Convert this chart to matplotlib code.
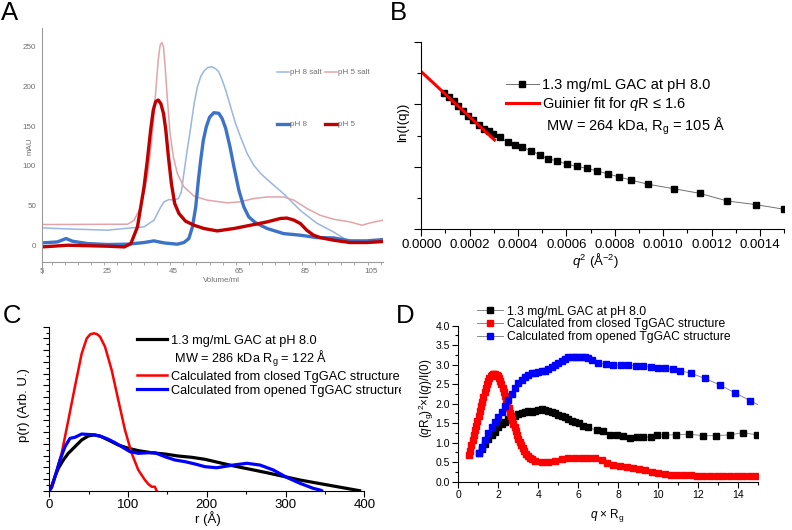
import matplotlib
matplotlib.use("Agg")
import matplotlib.pyplot as plt
from matplotlib.lines import Line2D
from matplotlib.ticker import MultipleLocator, FormatStrFormatter
from matplotlib.transforms import Bbox, TransformedBbox, IdentityTransform

plt.rcParams['font.family'] = ['Liberation Sans', 'DejaVu Sans']
plt.rcParams['mathtext.fontset'] = 'custom'
plt.rcParams['mathtext.rm'] = 'Liberation Sans'
plt.rcParams['mathtext.it'] = 'Liberation Sans:italic'
plt.rcParams['mathtext.bf'] = 'Liberation Sans:bold'
plt.rcParams['mathtext.default'] = 'regular'

# ---------------- Panel A data (SEC, mAU vs Volume/ml) ----------------
a_xticks = [5, 25, 45, 65, 85, 105]
a_yticks = [0, 50, 100, 150, 200, 250]

ph8salt_vol = [5, 12.9, 25, 31.1, 36.1, 39.1, 41.2, 42.2, 43.7, 45.2, 46.5, 47.4, 48.2, 49.2, 50.3,
               51.3, 52.3, 53.3, 54.3, 55.3, 56.6, 57.8, 58.8, 59.8, 60.9, 62.4, 63.9, 65.4, 67.4,
               69.4, 71.5, 73.5, 78.5, 83.6, 88.6, 93.7, 97.7, 99.7, 103.8, 108.6]
ph8salt_mau = [22.2, 20.9, 19.3, 21.8, 23.5, 31.8, 48.6, 54.9, 57.8, 57, 59, 67, 90.5, 119.8, 149,
               178, 199, 212, 219, 223, 224.5, 222, 218, 208, 195, 174, 153, 136.5, 115.6,
               101, 90.5, 82.9, 65, 44, 28, 17, 6.7, 5.9, 5.9, 7.5]

ph5salt_vol = [5, 31.1, 33.1, 35.1, 37.1, 38.1, 38.9, 39.6, 40.4, 41.0, 41.5, 42.0, 42.5, 43.2, 44.0,
               45.0, 46.2, 48.2, 51.3, 55.3, 61.4, 65.4, 69.4, 73.5, 78.5, 81.6, 85.6, 89.6, 93.7,
               98.7, 102.3, 104.8, 108.6]
ph5salt_mau = [26.4, 26.8, 31.8, 48.6, 86, 119.8, 153, 191, 233, 251.7, 254.6, 249.6, 224.5, 182.6, 140.7,
               111.4, 90.5, 73.7, 62, 57, 53.6, 55, 59, 61, 61, 57, 46.5, 38, 33,
               29.7, 25.5, 28.5, 31.8]

ph8_vol = [5, 9.8, 12.4, 14.4, 18.9, 25, 31.1, 36.1, 39.1, 42.2, 46.2, 48.2, 49.7, 50.8, 51.8, 52.6,
           53.3, 54.1, 55.0, 56.0, 57.3, 58.8, 59.8, 60.9, 62.2, 63.4, 64.9, 66.4, 67.9, 70.0,
           73.5, 78.5, 83.6, 88.6, 93.7, 98.7, 103.8, 108.6]
ph8_mau = [3.3, 4.6, 8.8, 5.4, 2.5, 1.3, 1.7, 3.8, 5.9, 3.3, 1.7, 3.8, 8.8, 23.5, 48.6, 82,
           107, 132, 149, 161, 166.7, 166, 159.5, 147, 124, 98.8, 69.5, 48.6, 36, 28.5,
           21.4, 15, 13, 10, 9.6, 5.9, 5.9, 7.5]

ph5_vol = [5, 12.9, 25, 30.1, 32.1, 34.1, 36.1, 37.1, 38.1, 38.9, 39.6, 40.4, 41.2, 42.0, 42.7, 43.5,
           44.4, 45.4, 46.7, 48.7, 51.3, 54.3, 58.3, 63.4, 68.4, 73.5, 77.5, 79.5, 81.6, 83.6,
           85.6, 87.6, 89.6, 93.7, 98.7, 103.8, 108.6]
ph5_mau = [-1.7, 0.4, -0.8, -1.7, 2.5, 23.5, 73.7, 107, 145, 170, 180.5, 182.6, 178, 165.8, 145, 111.4,
           77.9, 52.8, 40.2, 30.6, 25.5, 21.4, 18.4, 21.4, 25.5, 29.7, 34, 34.5, 32, 27.6,
           19, 13, 10, 6.7, 3.8, 3.8, 5]

# ---------------- Panel B data (Guinier plot) ----------------
b_q2 = [0.0000953, 0.0001146, 0.000134, 0.0001533, 0.000174, 0.0001948, 0.0002155, 0.0002376,
        0.0002583, 0.000279, 0.0002983, 0.000326, 0.0003564, 0.0003854, 0.0004171, 0.000453,
        0.000489, 0.000525, 0.000562, 0.000602, 0.000642, 0.000685, 0.000728, 0.000773,
        0.000819, 0.000866, 0.000939, 0.001043, 0.001151, 0.001265, 0.001384, 0.0015]
b_lnI = [2.179, 2.115, 2.051, 1.971, 1.891, 1.817, 1.747, 1.668,
         1.598, 1.572, 1.524, 1.470, 1.391, 1.353, 1.311, 1.257,
         1.193, 1.124, 1.097, 1.039, 1.007, 0.975, 0.932, 0.884,
         0.836, 0.788, 0.719, 0.650, 0.575, 0.453, 0.394, 0.320]
guinier_q2 = [0.0, 0.0003025]
guinier_lnI = [2.52, 1.428]

# ---------------- Panel C data (p(r)) ----------------
exp_r = [0, 3.0, 7.2, 11.4, 17.8, 24.1, 32.6, 41.1, 49.5, 56.8, 64.4, 74.9, 87.6, 100.3, 113, 130,
         147, 163.8, 180.8, 197.7, 210.4, 233.7, 276, 318.4, 360.7, 394]
exp_p = [0, 0.034, 0.12, 0.19, 0.262, 0.319, 0.376, 0.433, 0.467, 0.476, 0.467, 0.433, 0.39, 0.362,
         0.342, 0.324, 0.313, 0.296, 0.285, 0.268, 0.248, 0.212, 0.154, 0.091, 0.04, 0.0]
closed_r = [0, 0.9, 7.2, 15.7, 24.1, 32.6, 41.1, 47.5, 52, 56.8, 61, 64.4, 70.7, 79.2, 87.6, 96.1,
            104.6, 113, 121.5, 126, 130, 134, 136.3]
closed_p = [0, 0.006, 0.12, 0.32, 0.60, 0.89, 1.17, 1.30, 1.335, 1.344, 1.335, 1.315, 1.23, 1.03,
            0.774, 0.518, 0.32, 0.177, 0.091, 0.055, 0.034, 0.034, 0.0]
open_r = [0, 3, 7.2, 13.6, 19.9, 26.3, 32.6, 41.1, 49.5, 58, 66.5, 74.9, 83.4, 91.9, 102.5, 113,
          125.7, 134.2, 146.9, 159.6, 172.3, 185, 197.7, 212.6, 233.7, 250.7, 267.6, 284.4, 301.4,
          318.4, 335.2, 343.7, 345.8]
open_p = [0, 0.03, 0.12, 0.262, 0.376, 0.447, 0.456, 0.484, 0.48, 0.476, 0.461, 0.439, 0.41, 0.376,
          0.333, 0.319, 0.324, 0.324, 0.29, 0.262, 0.248, 0.228, 0.205, 0.196, 0.219, 0.234, 0.219,
          0.177, 0.114, 0.063, 0.02, 0.006, 0.0]

# ---------------- Panel D data (dimensionless Kratky) ----------------
d_exp_x = [1.03, 1.17, 1.33, 1.5, 1.67, 1.83, 2.0, 2.17, 2.33, 2.5, 2.67, 2.83, 3.0, 3.17, 3.33, 3.5,
           3.67, 3.83, 4.0, 4.17, 4.33, 4.5, 4.67, 4.83, 5.0, 5.17, 5.33, 5.5, 5.67, 5.83, 6.03, 6.25,
           6.5, 6.92, 7.25, 7.58, 7.92, 8.25, 8.58, 8.92, 9.25, 9.62, 9.95, 10.33, 10.88, 11.55,
           12.22, 12.88, 13.58, 14.25, 14.92]
d_exp_y = [0.74, 0.85, 0.97, 1.09, 1.2, 1.28, 1.39, 1.48, 1.54, 1.6, 1.65, 1.68, 1.73, 1.75, 1.78, 1.82,
           1.79, 1.82, 1.84, 1.86, 1.85, 1.82, 1.79, 1.75, 1.72, 1.68, 1.65, 1.61, 1.56, 1.53, 1.5, 1.44,
           1.39, 1.32, 1.3, 1.2, 1.2, 1.17, 1.11, 1.15, 1.15, 1.14, 1.2, 1.2, 1.2, 1.22,
           1.18, 1.18, 1.2, 1.26, 1.2]
d_closed_x = [0.53, 0.59, 0.65, 0.71, 0.77, 0.83, 0.89, 0.95, 1.01, 1.07, 1.13, 1.19, 1.25, 1.31, 1.37,
              1.43, 1.49, 1.55, 1.61, 1.67, 1.73, 1.79, 1.85, 1.91, 1.97, 2.03, 2.09, 2.15, 2.21, 2.27,
              2.33, 2.39, 2.45, 2.51, 2.57, 2.63, 2.69, 2.75, 2.81, 2.87, 2.93, 2.99, 3.06, 3.14, 3.22,
              3.30, 3.39, 3.48, 3.58, 3.70, 3.83, 4.17, 4.5, 4.83, 5.17, 5.5, 5.83, 6.17, 6.5, 6.83,
              7.17, 7.42, 7.75, 8.08, 8.42, 8.75, 9.05, 9.35, 9.68, 10.0, 10.33, 10.63, 10.95, 11.28,
              11.62, 11.95, 12.25, 12.58, 12.92, 13.25, 13.58, 13.92, 14.25, 14.58, 14.88]
d_closed_y = [0.68, 0.80, 0.93, 1.06, 1.19, 1.32, 1.44, 1.56, 1.69, 1.81, 1.93, 2.05, 2.17, 2.30, 2.40,
              2.50, 2.59, 2.66, 2.71, 2.74, 2.76, 2.76, 2.76, 2.74, 2.70, 2.65, 2.58, 2.50, 2.41, 2.31,
              2.21, 2.10, 2.00, 1.88, 1.77, 1.68, 1.59, 1.49, 1.39, 1.29, 1.19, 1.10, 1.01, 0.93, 0.86,
              0.79, 0.72, 0.66, 0.61, 0.57, 0.54, 0.51, 0.51, 0.54, 0.57, 0.6, 0.62, 0.62, 0.62, 0.6,
              0.56, 0.49, 0.44, 0.41, 0.38, 0.35, 0.32, 0.29, 0.26, 0.22, 0.2, 0.18, 0.17, 0.16,
              0.16, 0.15, 0.15, 0.15, 0.15, 0.14, 0.14, 0.14, 0.14, 0.14, 0.14]
d_open_x = [1.03, 1.17, 1.33, 1.5, 1.67, 1.83, 2.0, 2.17, 2.33, 2.5, 2.67, 2.83, 3.0, 3.17, 3.33, 3.5,
            3.67, 3.83, 4.0, 4.17, 4.33, 4.5, 4.67, 4.83, 5.0, 5.17, 5.33, 5.5, 5.67, 5.83, 6.0, 6.17,
            6.33, 6.5, 6.67, 7.0, 7.38, 7.75, 8.12, 8.5, 8.88, 9.25, 9.62, 10.0, 10.33, 10.72, 11.08,
            11.62, 12.33, 13.08, 13.83, 14.58, 15.33]
d_open_y = [0.74, 0.9, 1.07, 1.24, 1.39, 1.54, 1.67, 1.79, 1.94, 2.09, 2.25, 2.39, 2.52, 2.62, 2.69, 2.74,
            2.78, 2.79, 2.82, 2.84, 2.85, 2.88, 2.93, 2.99, 3.05, 3.1, 3.15, 3.19, 3.21, 3.21, 3.21, 3.21,
            3.19, 3.16, 3.12, 3.05, 3.01, 2.99, 2.99, 2.99, 2.97, 2.97, 2.95, 2.92, 2.91, 2.88, 2.85,
            2.78, 2.65, 2.48, 2.28, 2.08, 1.88]

W, H = 792, 530
fig = plt.figure(figsize=(W / 100, H / 100), dpi=100)


def axes_px(l, t, r, b):
    return fig.add_axes([l / W, (H - b) / H, (r - l) / W, (b - t) / H])


def fxy(x, y):
    return (x / W, (H - y) / H)


def place_labels(ax, box, xlab_xy, ylab_xy):
    l, t, r, b = box
    ax.xaxis.set_label_coords((xlab_xy[0] - l) / (r - l), (b - xlab_xy[1]) / (b - t))
    ax.yaxis.set_label_coords((ylab_xy[0] - l) / (r - l), (b - ylab_xy[1]) / (b - t))
    ax.xaxis.label.set_verticalalignment('center')
    ax.yaxis.label.set_verticalalignment('center')


# ================= Panel A =================
boxA = (41.7, 28, 382.7, 262.3)
axA = axes_px(*boxA)
axA.set_xlim(5, 108.6)
axA.set_ylim(-21, 273)
axA.plot(ph8salt_vol, ph8salt_mau, color='#98b5e6', lw=1.1)
axA.plot(ph5salt_vol, ph5salt_mau, color='#e3a3aa', lw=1.1)
axA.plot(ph8_vol, ph8_mau, color='#3d72c9', lw=2.4, solid_capstyle='round')
axA.plot(ph5_vol, ph5_mau, color='#c00000', lw=2.4, solid_capstyle='round')
for s in ['top', 'right']:
    axA.spines[s].set_visible(False)
for s in ['left', 'bottom']:
    axA.spines[s].set_color('#9a9a9a')
    axA.spines[s].set_linewidth(0.8)
axA.spines['left'].set_bounds(-35, 273)
axA.set_xticks(a_xticks)
axA.set_yticks(a_yticks)
axA.xaxis.set_minor_locator(MultipleLocator(4))
axA.tick_params(axis='both', which='major', length=0, labelsize=5.8, labelcolor='#707070', pad=4)
axA.tick_params(axis='x', which='minor', length=2, color='#9a9a9a', direction='out')
axA.tick_params(axis='y', which='minor', length=0)
axA.text((221.7 - 41.7) / 341, (262.3 - 280) / 234.3, 'Volume/ml', transform=axA.transAxes,
         ha='center', va='center', fontsize=5.8, color='#707070')
axA.text((30 - 41.7) / 341, (262.3 - 146) / 234.3, 'mAU', transform=axA.transAxes,
         ha='center', va='center', fontsize=5.8, color='#707070', rotation=90)


def a_leg(x0, x1, y, color, lw, label):
    axA.add_line(Line2D([(x0 - 41.7) / 341, (x1 - 41.7) / 341], [(262.3 - y) / 234.3] * 2,
                        transform=axA.transAxes, color=color, lw=lw, clip_on=False))
    axA.text((x1 + 0.5 - 41.7) / 341, (262.3 - y) / 234.3, label, transform=axA.transAxes,
             ha='left', va='center', fontsize=5.8, color='#707070')


a_leg(276.7, 289.3, 72, '#98b5e6', 1.1, 'pH 8 salt')
a_leg(325, 337.3, 72, '#e3a3aa', 1.1, 'pH 5 salt')
a_leg(276.7, 289.3, 124, '#3d72c9', 2.4, 'pH 8')
a_leg(325, 337.3, 124, '#c00000', 2.4, 'pH 5')

# ================= Panel B =================
boxB = (421.3, 41.7, 784.2, 229.3)
axB = axes_px(*boxB)
axB.set_xlim(0, 0.0015)
axB.set_ylim(0, 3)
lB1, = axB.plot(b_q2, b_lnI, color='#707070', lw=0.7, marker='s', ms=3.9,
                mfc='black', mec='black')
lB2, = axB.plot(guinier_q2, guinier_lnI, color='#ff0000', lw=2.2)
for s in ['top', 'right']:
    axB.spines[s].set_visible(False)
axB.xaxis.set_major_locator(MultipleLocator(0.0002))
axB.xaxis.set_minor_locator(MultipleLocator(0.0001))
axB.xaxis.set_major_formatter(FormatStrFormatter('%.4f'))
axB.yaxis.set_major_locator(MultipleLocator(1))
axB.yaxis.set_minor_locator(MultipleLocator(0.5))
axB.set_yticklabels([])
axB.tick_params(which='major', length=5, width=0.8, direction='out', labelsize=9.5, pad=2)
axB.tick_params(which='minor', length=3, width=0.8, direction='out')
axB.set_xlabel(r'$\mathit{q}^2$ (Å$^{-2}$)', fontsize=9.5)
axB.set_ylabel('ln(I(q))', fontsize=9.5)
place_labels(axB, boxB, (596, 261), (403, 122))
blank = Line2D([], [], color='none')
legB = axB.legend([lB1, lB2, blank],
                  ['1.3 mg/mL GAC at pH 8.0', r'Guinier fit for $\mathit{q}$R ≤ 1.6',
                   ' MW = 264 kDa, R$_g$ = 105 Å'],
                  loc='upper left', bbox_to_anchor=fxy(506, 78.5), bbox_transform=fig.transFigure,
                  frameon=False, fontsize=10.5, borderpad=0, borderaxespad=0,
                  handlelength=2.26, handletextpad=0.18, labelspacing=0.17, numpoints=1)

# ================= Panel C =================
boxC = (49.3, 326.7, 364.3, 490.7)
axC = axes_px(*boxC)
axC.set_xlim(0, 400)
axC.set_ylim(0, 1.4)
lC1, = axC.plot(exp_r, exp_p, color='black', lw=2.3)
lC2, = axC.plot(closed_r, closed_p, color='#ff0000', lw=1.8)
lC3, = axC.plot(open_r, open_p, color='#0000ff', lw=2.3)
for s in ['top', 'right']:
    axC.spines[s].set_visible(False)
axC.xaxis.set_major_locator(MultipleLocator(100))
axC.xaxis.set_minor_locator(MultipleLocator(50))
axC.yaxis.set_major_locator(MultipleLocator(0.1))
axC.yaxis.set_minor_locator(MultipleLocator(0.05))
axC.set_yticklabels([])
axC.tick_params(which='major', length=4, width=0.8, direction='out', labelsize=9.5, pad=2)
axC.tick_params(which='minor', length=2.5, width=0.8, direction='out')
axC.set_xlabel('r (Å)', fontsize=9.5)
axC.set_ylabel('p(r) (Arb. U.)', fontsize=9.5)
place_labels(axC, boxC, (208, 519), (24, 405))
legC = axC.legend([lC1, blank, lC2, lC3],
                  ['1.3 mg/mL GAC at pH 8.0', ' MW = 286 kDa R$_g$ = 122 Å',
                   'Calculated from closed TgGAC structure',
                   'Calculated from opened TgGAC structure'],
                  loc='upper left', bbox_to_anchor=fxy(136.7, 334.6), bbox_transform=fig.transFigure,
                  frameon=False, fontsize=9.2, borderpad=0, borderaxespad=0,
                  handlelength=2.4, handletextpad=0.26, labelspacing=0.16)
clipbox = TransformedBbox(Bbox([[0, 0], [400.5, H]]), IdentityTransform())
for t in legC.get_texts():
    t.set_clip_on(True)
    t.set_clip_box(clipbox)

# ================= Panel D =================
boxD = (458.3, 325.7, 758.3, 481.7)
axD = axes_px(*boxD)
axD.set_xlim(0, 15)
axD.set_ylim(0, 4)
lD1, = axD.plot(d_exp_x, d_exp_y, color='#8a8a8a', lw=0.7, marker='s', ms=3.7,
                mfc='black', mec='black')
lD2, = axD.plot(d_closed_x, d_closed_y, color='#8a8a8a', lw=0.7, marker='s', ms=3.7,
                mfc='#ff0000', mec='#ff0000')
lD3, = axD.plot(d_open_x, d_open_y, color='#8a8a8a', lw=0.7, marker='s', ms=3.7,
                mfc='#0000ff', mec='#0000ff')
for s in ['top', 'right']:
    axD.spines[s].set_visible(False)
axD.xaxis.set_major_locator(MultipleLocator(2))
axD.xaxis.set_minor_locator(MultipleLocator(1))
axD.yaxis.set_major_locator(MultipleLocator(0.5))
axD.yaxis.set_minor_locator(MultipleLocator(0.25))
axD.yaxis.set_major_formatter(FormatStrFormatter('%.1f'))
axD.tick_params(which='major', length=4, width=0.8, direction='out', labelsize=7.5, pad=2)
axD.tick_params(which='minor', length=2, width=0.8, direction='out')
axD.set_xlabel(r'$\mathit{q}$ × R$_g$', fontsize=8.5)
axD.set_ylabel(r'($\mathit{q}$R$_g$)$^2$×I($\mathit{q}$)/I(0)', fontsize=8.5)
place_labels(axD, boxD, (607, 515), (426, 398))
legD = axD.legend([lD1, lD2, lD3],
                  ['1.3 mg/mL GAC at pH 8.0', 'Calculated from closed TgGAC structure',
                   'Calculated from opened TgGAC structure'],
                  loc='upper left', bbox_to_anchor=fxy(476.7, 305.5), bbox_transform=fig.transFigure,
                  frameon=False, fontsize=8.7, borderpad=0, borderaxespad=0,
                  handlelength=2.2, handletextpad=0.32, labelspacing=0.08, numpoints=1)

# ================= Panel letters =================
for lab, x, y in [('A', 0.5, 20), ('B', 389.5, 20), ('C', 2.5, 323), ('D', 396, 323)]:
    fig.text(x / W, (H - y) / H, lab, fontsize=18.5, ha='left', va='baseline')

fig.savefig('out.png', dpi=100)
